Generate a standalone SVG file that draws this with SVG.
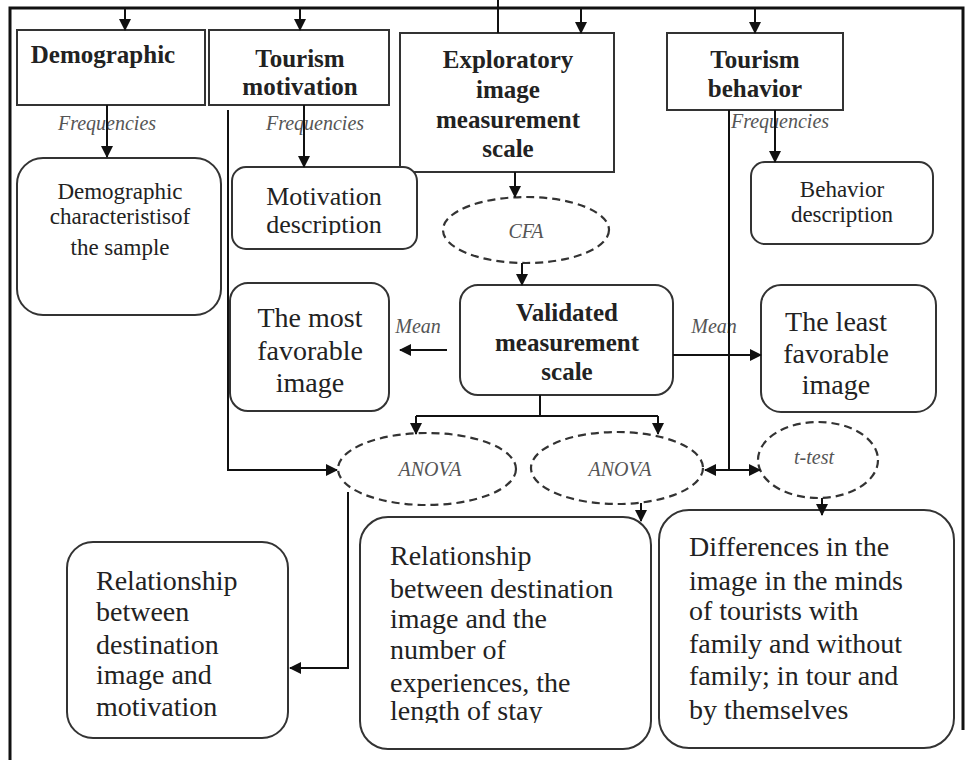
<svg xmlns="http://www.w3.org/2000/svg" width="968" height="760" viewBox="0 0 968 760">
<defs>
<marker id="ah" markerWidth="12" markerHeight="12" refX="11" refY="6" orient="auto" markerUnits="userSpaceOnUse">
<path d="M0,0 L12,6 L0,12 Z" fill="#111"/>
</marker>
<clipPath id="clipMot"><rect x="232" y="167" width="185" height="68"/></clipPath>
<clipPath id="clipExp"><rect x="360" y="517" width="291" height="206"/></clipPath>
<style>
.box{fill:#fff;stroke:#333;stroke-width:2}
.ell{fill:#fff;stroke:#333;stroke-width:2.2;stroke-dasharray:8,5}
.c{fill:none;stroke:#111;stroke-width:2}
.t{font-family:"Liberation Serif","Times New Roman",serif;fill:#222}
.b{font-weight:bold;font-size:25px;text-anchor:middle}
.i{font-style:italic;fill:#555;font-size:20px}
.m{text-anchor:middle}
</style>
</defs>
<rect x="0" y="0" width="968" height="760" fill="#fff"/>
<path d="M10 760 V8 H963 V730" fill="none" stroke="#111" stroke-width="3"/>

<g id="demographic"><rect class="box" x="17" y="30" width="188" height="75"/><text class="t b" x="103" y="63">Demographic</text></g>
<g id="tourism-motivation"><rect class="box" x="209" y="30" width="180" height="75"/><text class="t b" x="300" y="67">Tourism</text><text class="t b" x="300" y="95">motivation</text></g>
<g id="exploratory"><rect class="box" x="400" y="33" width="214" height="139"/><text class="t b" x="508" y="68">Exploratory</text><text class="t b" x="508" y="98">image</text><text class="t b" x="508" y="128">measurement</text><text class="t b" x="508" y="157">scale</text></g>
<g id="tourism-behavior"><rect class="box" x="667" y="33" width="176" height="77"/><text class="t b" x="755" y="68">Tourism</text><text class="t b" x="755" y="97">behavior</text></g>

<g id="demo-char"><rect class="box" x="17" y="158" width="204" height="157" rx="26"/><text class="t m" font-size="23" x="120" y="199">Demographic</text><text class="t m" font-size="23" x="120" y="224">characteristisof</text><text class="t m" font-size="23" x="120" y="255">the sample</text></g>
<g id="motivation-desc"><rect class="box" x="232" y="167" width="185" height="82" rx="14"/><g clip-path="url(#clipMot)"><text class="t m" font-size="26" x="324" y="205">Motivation</text><text class="t m" font-size="26" x="324" y="233">description</text></g></g>
<g id="behavior-desc"><rect class="box" x="751" y="162" width="182" height="82" rx="14"/><text class="t m" font-size="23" x="842" y="197">Behavior</text><text class="t m" font-size="23" x="842" y="222">description</text></g>

<g id="cfa"><ellipse class="ell" cx="526" cy="230" rx="83" ry="33"/><text class="t i m" font-size="26" x="526" y="238">CFA</text></g>

<g id="validated"><rect class="box" x="460" y="285" width="213" height="110" rx="18"/><text class="t b" x="567" y="321">Validated</text><text class="t b" x="567" y="351">measurement</text><text class="t b" x="567" y="380">scale</text></g>
<g id="most-favorable"><rect class="box" x="230" y="283" width="159" height="128" rx="18"/><text class="t m" font-size="28" x="310" y="327">The most</text><text class="t m" font-size="28" x="310" y="360">favorable</text><text class="t m" font-size="28" x="310" y="392">image</text></g>
<g id="least-favorable"><rect class="box" x="761" y="285" width="175" height="127" rx="20"/><text class="t m" font-size="28" x="836" y="331">The least</text><text class="t m" font-size="28" x="836" y="363">favorable</text><text class="t m" font-size="28" x="836" y="394">image</text></g>

<g id="anova1"><ellipse class="ell" cx="427" cy="469" rx="89" ry="36"/><text class="t i m" font-size="26" x="430" y="476">ANOVA</text></g>
<g id="anova2"><ellipse class="ell" cx="617" cy="468" rx="86" ry="36"/><text class="t i m" font-size="26" x="620" y="476">ANOVA</text></g>
<g id="ttest"><ellipse class="ell" cx="818" cy="460" rx="60" ry="38"/><text class="t i m" font-size="25" x="814" y="464">t-test</text></g>

<g id="rel-motivation"><rect class="box" x="67" y="542" width="221" height="196" rx="26"/>
<text class="t" font-size="28" x="96" y="590">Relationship</text><text class="t" font-size="28" x="96" y="621">between</text><text class="t" font-size="28" x="96" y="654">destination</text><text class="t" font-size="28" x="96" y="684">image and</text><text class="t" font-size="28" x="96" y="716">motivation</text></g>
<g id="rel-experience"><rect class="box" x="360" y="517" width="291" height="232" rx="28"/>
<g clip-path="url(#clipExp)"><text class="t" font-size="28" x="390" y="565">Relationship</text><text class="t" font-size="28" x="390" y="598">between destination</text><text class="t" font-size="28" x="390" y="628">image and the</text><text class="t" font-size="28" x="390" y="659">number of</text><text class="t" font-size="28" x="390" y="692">experiences, the</text><text class="t" font-size="28" x="390" y="720">length of stay</text></g></g>
<g id="differences"><rect class="box" x="659" y="510" width="295" height="238" rx="30"/>
<text class="t" font-size="28" x="689" y="556">Differences in the</text><text class="t" font-size="28" x="689" y="590">image in the minds</text><text class="t" font-size="28" x="689" y="620">of tourists with</text><text class="t" font-size="28" x="689" y="653">family and without</text><text class="t" font-size="28" x="689" y="685">family; in tour and</text><text class="t" font-size="28" x="689" y="719">by themselves</text></g>

<g id="labels">
<text class="t i m" x="107" y="130">Frequencies</text>
<text class="t i m" x="315" y="130">Frequencies</text>
<text class="t i m" x="780" y="128">Frequencies</text>
<text class="t i m" font-size="18" x="418" y="333">Mean</text>
<text class="t i m" font-size="18" x="714" y="333">Mean</text>
</g>

<g id="connectors">
<path class="c" d="M498 0 V33"/>
<path class="c" d="M125 8 V30" marker-end="url(#ah)"/>
<path class="c" d="M300 8 V30" marker-end="url(#ah)"/>
<path class="c" d="M581 8 V33" marker-end="url(#ah)"/>
<path class="c" d="M755 8 V33" marker-end="url(#ah)"/>
<path class="c" d="M107 105 V157" marker-end="url(#ah)"/>
<path class="c" d="M304 105 V167" marker-end="url(#ah)"/>
<path class="c" d="M775 110 V162" marker-end="url(#ah)"/>
<path class="c" d="M515 172 V197" marker-end="url(#ah)"/>
<path class="c" d="M522 263 V285" marker-end="url(#ah)"/>
<path class="c" d="M447 350 H400" marker-end="url(#ah)"/>
<path class="c" d="M673 355 H761" marker-end="url(#ah)"/>
<path class="c" d="M228 110 V470 H337" marker-end="url(#ah)"/>
<path class="c" d="M729 110 V470"/>
<path class="c" d="M729 470 H705" marker-end="url(#ah)"/>
<path class="c" d="M729 470 H760" marker-end="url(#ah)"/>
<path class="c" d="M540 395 V416"/>
<path class="c" d="M416 416 H658"/>
<path class="c" d="M416 416 V434" marker-end="url(#ah)"/>
<path class="c" d="M658 416 V434" marker-end="url(#ah)"/>
<path class="c" d="M348 492 V668 H290" marker-end="url(#ah)"/>
<path class="c" d="M641 503 V521" marker-end="url(#ah)"/>
<path class="c" d="M822 498 V515" marker-end="url(#ah)"/>
</g>
</svg>
